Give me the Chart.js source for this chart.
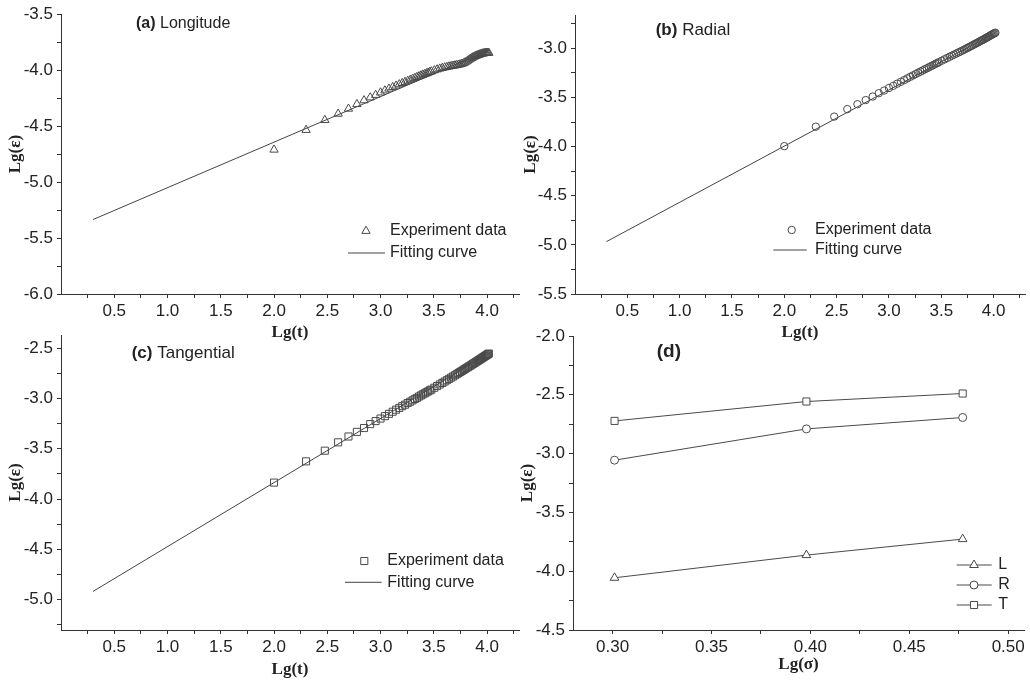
<!DOCTYPE html>
<html><head><meta charset="utf-8">
<script src="https://cdn.jsdelivr.net/npm/chart.js@4.4.1/dist/chart.umd.min.js"></script>
<style>
html,body{margin:0;padding:0;background:#fff;}
#wrap{position:relative;width:1030px;height:686px;overflow:hidden;background:#fff;}
canvas{position:absolute;}
</style></head><body>
<div id="wrap">
<canvas id="pa"></canvas><canvas id="pb"></canvas><canvas id="pc"></canvas><canvas id="pd"></canvas>
</div>
<script>
// ---------- data ----------
const lgT = [2.000,2.301,2.477,2.602,2.699,2.778,2.845,2.903,2.954,3.000,
  3.041,3.079,3.114,3.146,3.176,3.204,3.230,3.255,3.279,3.301,
  3.322,3.342,3.362,3.380,3.398,3.415,3.431,3.447,3.462,3.477,
  3.505,3.531,3.556,3.580,3.602,3.623,3.643,3.663,3.681,3.699,
  3.716,3.732,3.748,3.763,3.778,3.792,3.806,3.820,3.833,3.845,
  3.857,3.869,3.881,3.892,3.903,3.914,3.924,3.934,3.944,3.954,
  3.964,3.973,3.982,3.991,4.000,4.009,4.017];
const lgEpsLongitude = [-4.711,-4.535,-4.446,-4.390,-4.345,-4.304,-4.270,-4.244,-4.222,-4.200,
  -4.182,-4.166,-4.152,-4.139,-4.127,-4.116,-4.106,-4.096,-4.087,-4.078,
  -4.070,-4.062,-4.055,-4.048,-4.041,-4.035,-4.029,-4.023,-4.017,-4.012,
  -4.002,-3.994,-3.987,-3.981,-3.976,-3.972,-3.968,-3.964,-3.961,-3.958,
  -3.955,-3.952,-3.948,-3.944,-3.939,-3.932,-3.924,-3.915,-3.906,-3.898,
  -3.891,-3.885,-3.879,-3.874,-3.870,-3.866,-3.862,-3.859,-3.856,-3.853,
  -3.851,-3.849,-3.847,-3.846,-3.845,-3.845,-3.846];
const lgEpsRadial = [-3.995,-3.797,-3.694,-3.618,-3.568,-3.526,-3.490,-3.456,-3.429,-3.403,
  -3.381,-3.359,-3.340,-3.322,-3.305,-3.289,-3.275,-3.261,-3.248,-3.236,
  -3.225,-3.213,-3.203,-3.193,-3.183,-3.174,-3.165,-3.156,-3.149,-3.140,
  -3.125,-3.111,-3.098,-3.085,-3.074,-3.063,-3.052,-3.042,-3.033,-3.023,
  -3.014,-3.005,-2.996,-2.988,-2.980,-2.972,-2.964,-2.956,-2.949,-2.942,
  -2.935,-2.928,-2.921,-2.915,-2.909,-2.902,-2.896,-2.890,-2.884,-2.878,
  -2.872,-2.866,-2.861,-2.855,-2.850,-2.845,-2.840];
const lgEpsTangential = [-3.836,-3.625,-3.519,-3.436,-3.378,-3.332,-3.294,-3.255,-3.225,-3.200,
  -3.176,-3.153,-3.132,-3.112,-3.094,-3.077,-3.062,-3.046,-3.032,-3.019,
  -3.005,-2.994,-2.981,-2.970,-2.959,-2.949,-2.939,-2.930,-2.920,-2.912,
  -2.894,-2.877,-2.861,-2.846,-2.832,-2.819,-2.806,-2.793,-2.782,-2.770,
  -2.759,-2.748,-2.737,-2.728,-2.717,-2.708,-2.698,-2.690,-2.680,-2.673,
  -2.664,-2.656,-2.648,-2.641,-2.633,-2.626,-2.618,-2.612,-2.605,-2.598,
  -2.591,-2.585,-2.578,-2.573,-2.566,-2.560,-2.554];
const fitLgT = [0.3, 4.02];
const fitLongitude = [-5.335, -3.821];
const fitRadial = [-4.967, -2.840];
const fitTangential = [-4.917, -2.551];
const lgSigma = [0.301, 0.398, 0.477];
const stressL = [-4.056, -3.863, -3.727];
const stressR = [-3.056, -2.790, -2.693];
const stressT = [-2.722, -2.557, -2.489];

// ---------- style ----------
const SANS = '"Liberation Sans", Arial, Helvetica, sans-serif';
const SERIF = '"Liberation Serif", "Times New Roman", serif';
const INK = '#222';
const AXIS = '#333';
const MARK = '#4a4a4a';
Chart.defaults.font.family = SANS;
Chart.defaults.font.size = 17;
Chart.defaults.color = INK;

const pts = (xs, ys) => xs.map((x, i) => ({x, y: ys[i]}));

function drawMarker(ctx, style, r, x, y, fill) {
  ctx.save();
  ctx.fillStyle = fill; ctx.strokeStyle = MARK; ctx.lineWidth = 1;
  if (Chart.helpers && Chart.helpers.drawPoint) {
    Chart.helpers.drawPoint(ctx, {pointStyle: style, radius: r, rotation: 0, borderWidth: 1}, x, y);
  } else {
    ctx.beginPath();
    if (style === 'circle') ctx.arc(x, y, r, 0, Math.PI * 2);
    else if (style === 'rect') { const s = r * Math.SQRT1_2; ctx.rect(x - s, y - s, 2 * s, 2 * s); }
    else { for (let k = 0; k < 3; k++) { const a = -Math.PI / 2 + k * 2 * Math.PI / 3; const px = x + r * Math.cos(a), py = y + r * Math.sin(a); k ? ctx.lineTo(px, py) : ctx.moveTo(px, py); } ctx.closePath(); }
    ctx.fill(); ctx.stroke();
  }
  ctx.restore();
}

const panelDecor = {
  id: 'panelDecor',
  afterDatasetsDraw(chart, args, o) {
    const ctx = chart.ctx;
    ctx.save();
    ctx.textBaseline = 'middle'; ctx.textAlign = 'left'; ctx.fillStyle = INK;
    if (o.tag) {
      ctx.font = `bold ${o.tagSize}px ${SANS}`;
      ctx.fillText(o.tag, o.tagX, o.tagY);
      if (o.title) {
        const w = ctx.measureText(o.tag).width;
        ctx.font = `${o.tagSize}px ${SANS}`;
        ctx.fillText(' ' + o.title, o.tagX + w, o.tagY);
      }
    }
    for (const it of (o.items || [])) {
      const ds = chart.data.datasets[it.ds];
      if (it.line) {
        ctx.strokeStyle = ds.borderColor; ctx.lineWidth = 1;
        ctx.beginPath(); ctx.moveTo(it.line[0], it.y); ctx.lineTo(it.line[1], it.y); ctx.stroke();
      }
      if (it.marker !== undefined) drawMarker(ctx, ds.pointStyle, ds.pointRadius, it.marker, it.y, ds.pointBackgroundColor);
      ctx.font = `16px ${SANS}`; ctx.fillStyle = INK;
      ctx.fillText(ds.label, it.textX, it.y);
    }
    ctx.restore();
  }
};

function halfLabel(v) {
  if (Math.abs(v) < 1e-9) return '';
  return Math.round(v * 4) % 2 === 0 ? v.toFixed(1) : '';
}
function sigmaLabel(v) {
  return Math.round(v * 40) % 2 === 0 ? v.toFixed(2) : '';
}
const hideZeroTick = c => (c.tick && Math.abs(c.tick.value) < 1e-9) ? 'rgba(0,0,0,0)' : AXIS;

function axis(opts) {
  return Object.assign({
    type: 'linear',
    grid: {display: true, drawOnChartArea: false, drawTicks: true, tickLength: 4, color: AXIS, tickColor: AXIS},
    border: {display: true, color: AXIS, width: 1},
  }, opts);
}

function makePanel(id, box, area, datasets, xs, ys, decor) {
  const cv = document.getElementById(id);
  cv.width = box.W; cv.height = box.H;
  cv.style.left = box.L + 'px'; cv.style.top = box.T + 'px';
  cv.style.width = box.W + 'px'; cv.style.height = box.H + 'px';
  xs.afterFit = s => { s.height = box.T + box.H - area.b; };
  ys.afterFit = s => { s.width = area.l - box.L; };
  return new Chart(cv, {
    type: 'scatter',
    data: {datasets},
    options: {
      responsive: false, animation: false, devicePixelRatio: 1,
      layout: {padding: {top: area.t - box.T, right: box.L + box.W - area.r, left: 0, bottom: 0}},
      plugins: {legend: {display: false}, tooltip: {enabled: false}, panelDecor: decor},
      scales: {x: xs, y: ys}
    },
    plugins: [panelDecor]
  });
}

function timeX(titlePadBottom) {
  return axis({
    min: 0, max: 4.3,
    grid: {display: true, drawOnChartArea: false, drawTicks: true, tickLength: 4, color: AXIS, tickColor: hideZeroTick},
    ticks: {stepSize: 0.25, includeBounds: false, autoSkip: false, maxRotation: 0, padding: 3, callback: halfLabel, color: INK},
    title: {display: true, text: 'Lg(t)', font: {family: SERIF, size: 17, weight: 'bold'}, color: INK, padding: {top: 0, bottom: titlePadBottom}}
  });
}
function epsY(min, max, titlePad) {
  return axis({
    min, max,
    ticks: {stepSize: 0.25, includeBounds: false, autoSkip: false, padding: 4, callback: halfLabel, color: INK},
    title: {display: true, text: 'Lg(ε)', font: {family: SERIF, size: 17, weight: 'bold'}, color: INK, padding: {top: titlePad, bottom: 0}}
  });
}
function scatterSet(label, ys, style, r) {
  return {label, data: pts(lgT, ys), showLine: false, pointStyle: style, pointRadius: r,
    pointBorderWidth: 1, borderColor: MARK, pointBorderColor: MARK, pointBackgroundColor: 'rgba(0,0,0,0)', backgroundColor: 'rgba(0,0,0,0)'};
}
function fitSet(ys) {
  return {label: 'Fitting curve', data: pts(fitLgT, ys), showLine: true, pointRadius: 0, borderColor: '#444', borderWidth: 1, fill: false};
}

// (a) Longitude
makePanel('pa', {L: 0, T: 0, W: 525, H: 345}, {l: 61, t: 14, r: 519, b: 294},
  [scatterSet('Experiment data', lgEpsLongitude, 'triangle', 4.8), fitSet(fitLongitude)],
  timeX(2), epsY(-6.0, -3.5, 5),
  {tag: '(a)', title: 'Longitude', tagSize: 16, tagX: 136, tagY: 24,
   items: [{ds: 0, marker: 366, y: 231, textX: 390}, {ds: 1, line: [348, 385], y: 253, textX: 390}]});

// (b) Radial
makePanel('pb', {L: 515, T: 0, W: 515, H: 345}, {l: 575, t: 15, r: 1028, b: 294},
  [scatterSet('Experiment data', lgEpsRadial, 'circle', 3.7), fitSet(fitRadial)],
  timeX(2), epsY(-5.5, -2.66, 5),
  {tag: '(b)', title: 'Radial', tagSize: 17, tagX: 140.7, tagY: 30,
   items: [{ds: 0, marker: 276.7, y: 230, textX: 300}, {ds: 1, line: [258.3, 291.7], y: 250, textX: 300}]});

// (c) Tangential
makePanel('pc', {L: 0, T: 320, W: 525, H: 366}, {l: 61, t: 335, r: 519, b: 630},
  [scatterSet('Experiment data', lgEpsTangential, 'rect', 5), fitSet(fitTangential)],
  timeX(6), epsY(-5.3, -2.37, 5),
  {tag: '(c)', title: 'Tangential', tagSize: 17, tagX: 131.7, tagY: 33.3,
   items: [{ds: 0, marker: 364.3, y: 241, textX: 387.3}, {ds: 1, line: [345, 381.7], y: 262.3, textX: 387.3}]});

// (d) stress dependence
function stressSet(label, ys, style, r) {
  return {label, data: pts(lgSigma, ys), showLine: true, pointStyle: style, pointRadius: r,
    pointBorderWidth: 1, borderColor: MARK, borderWidth: 1, pointBorderColor: MARK, pointBackgroundColor: '#fff', fill: false};
}
makePanel('pd', {L: 515, T: 320, W: 515, H: 366}, {l: 573, t: 336, r: 1028, b: 630},
  [stressSet('L', stressL, 'triangle', 5), stressSet('R', stressR, 'circle', 4), stressSet('T', stressT, 'rect', 5)],
  axis({min: 0.28, max: 0.508,
    ticks: {stepSize: 0.025, includeBounds: false, autoSkip: false, maxRotation: 0, padding: 3, callback: sigmaLabel, color: INK},
    title: {display: true, text: 'Lg(σ)', font: {family: SERIF, size: 17, weight: 'bold'}, color: INK, padding: {top: 0, bottom: 11}}}),
  epsY(-4.5, -2.0, 2),
  {tag: '(d)', tagSize: 19, tagX: 141.7, tagY: 31.7,
   items: [{ds: 0, line: [441.7, 476.7], marker: 459, y: 245, textX: 483.3},
           {ds: 1, line: [441.7, 476.7], marker: 459, y: 265, textX: 483.3},
           {ds: 2, line: [441.7, 476.7], marker: 459, y: 285, textX: 483.3}]});
</script>
</body></html>
